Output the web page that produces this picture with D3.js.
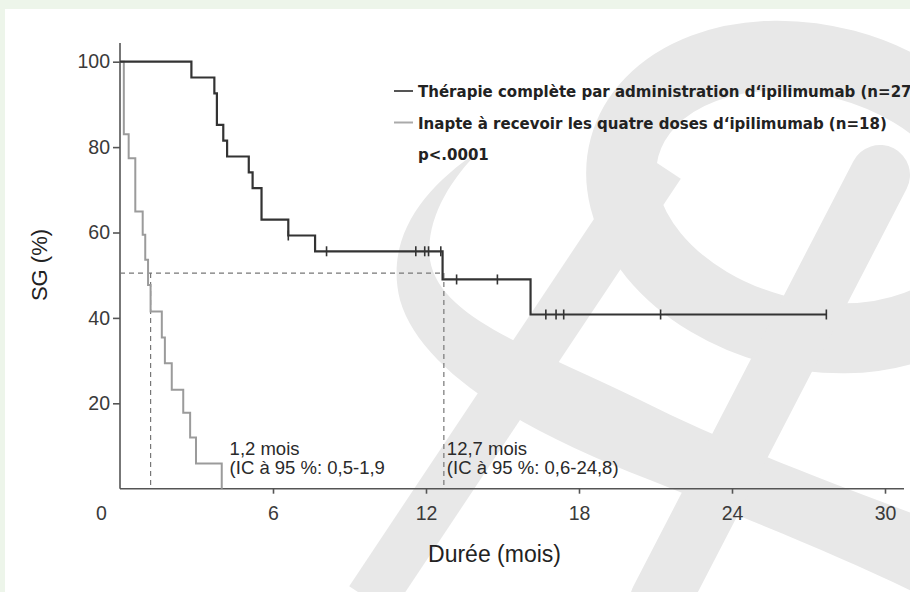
<!DOCTYPE html>
<html>
<head>
<meta charset="utf-8">
<script src="https://cdn.jsdelivr.net/npm/d3@7"></script>
<style>
  body { margin: 0; background: #edf5ea; }
  svg { display: block; }
</style>
</head>
<body>
<svg width="910" height="592"></svg>
<script>
// survival steps: [month, % alive]
const completeSteps = [[0, 100], [2.8, 96.3], [3.7, 92.6], [3.8, 85.2], [4.05, 81.5], [4.2, 77.8],
  [5.05, 74.1], [5.2, 70.4], [5.55, 63.0], [6.6, 59.3], [7.65, 55.6], [12.65, 49.0], [16.1, 40.8]]
const completeEnd = 27.7
const completeCensored = [6.6, 8.1, 11.6, 11.95, 12.1, 12.58, 13.2, 14.8, 16.7, 17.1, 17.4, 21.2, 27.7]

const unfitSteps = [[0, 100], [0.15, 83.0], [0.34, 77.4], [0.6, 64.9], [0.89, 59.5], [0.99, 53.6],
  [1.1, 47.7], [1.2, 41.5], [1.64, 35.4], [1.76, 29.4], [2.03, 23.2], [2.48, 17.8], [2.75, 12.0],
  [2.98, 5.9], [3.99, 0]]

const medians = [1.2, 12.7]
const xTicks = [0, 6, 12, 18, 24, 30]
const yTicks = [20, 40, 60, 80, 100]
const legendLabels = ["Thérapie complète par administration d‘ipilimumab (n=27)",
  "Inapte à recevoir les quatre doses d‘ipilimumab (n=18)"]
const pLabel = "p<.0001"
const medianNotes = [["1,2 mois", "(IC à 95 %: 0,5-1,9"], ["12,7 mois", "(IC à 95 %: 0,6-24,8)"]]

const svg = d3.select("svg")

// white card on the pale green page
svg.append("rect").attr("x", 5).attr("y", 9).attr("width", 905).attr("height", 583).attr("fill", "#fff")

// watermark shapes
const wm = svg.append("g").attr("fill", "none").attr("stroke", "#e8e8e8")
wm.append("ellipse").attr("cx", 810).attr("cy", 197).attr("rx", 192).attr("ry", 137)
  .attr("transform", "rotate(15,810,197)").attr("stroke-width", 70)
wm.append("path").attr("stroke", "none").attr("fill", "#e8e8e8")
  .attr("d", "M480,150 C420,190 385,240 400,300 C420,370 520,430 650,480 C750,520 850,560 930,600 " +
    "L930,520 C850,490 740,450 640,400 C540,350 440,320 430,260 C425,220 450,180 480,150 Z")
wm.append("path").attr("d", "M660,165 L370,600").attr("stroke-width", 50)
wm.append("path").attr("d", "M880,175 L660,600").attr("stroke-width", 60).attr("stroke-linecap", "round")

const x = d3.scaleLinear().domain([0, 30]).range([120, 885])
const y = d3.scaleLinear().domain([0, 100]).range([488.7, 61.7])

const g = svg.append("g")

// axes
const xAxis = d3.axisBottom(x).tickValues(xTicks).tickSize(5).tickSizeOuter(0).tickPadding(12)
const xAxisG = g.append("g").attr("transform", `translate(0,${y(0)})`).call(xAxis)
xAxisG.select(".domain").attr("d", `M${x(0)},0H904`)
xAxisG.selectAll(".tick").filter(d => d === 0).select("text").attr("dx", -19)
xAxisG.selectAll(".tick").filter(d => d === 0).select("line").remove()

const yAxis = d3.axisLeft(y).tickValues(yTicks).tickSize(7).tickSizeOuter(0).tickPadding(3)
const yAxisG = g.append("g").attr("transform", `translate(${x(0)},0)`).call(yAxis)
yAxisG.select(".domain").attr("d", `M0,43V${y(0)}`)

svg.selectAll(".domain, .tick line").attr("stroke", "#555").attr("stroke-width", 1.6)
svg.selectAll(".tick text").attr("font-family", "Liberation Sans, Arial, sans-serif")
  .attr("font-size", 19.5).attr("fill", "#3a3a3a")

g.append("text").attr("x", x(15) - 8).attr("y", 562).attr("text-anchor", "middle")
  .attr("font-family", "Liberation Sans, Arial, sans-serif").attr("font-size", 23).attr("fill", "#222")
  .text("Durée (mois)")
g.append("text").attr("transform", "translate(47,265) rotate(-90)").attr("text-anchor", "middle")
  .attr("font-family", "Liberation Sans, Arial, sans-serif").attr("font-size", 22).attr("fill", "#222")
  .text("SG (%)")

// median guide lines
const guide = g.append("g").attr("stroke", "#777").attr("stroke-width", 1.2).attr("stroke-dasharray", "5,4")
guide.append("line").attr("x1", x(0)).attr("x2", x(medians[1])).attr("y1", y(50.5)).attr("y2", y(50.5))
medians.forEach(m => {
  guide.append("line").attr("x1", x(m)).attr("x2", x(m)).attr("y1", y(50.5)).attr("y2", y(0))
})

// survival curves
const line = d3.line().x(d => x(d[0])).y(d => y(d[1])).curve(d3.curveStepAfter)
g.append("path").datum(unfitSteps)
  .attr("fill", "none").attr("stroke", "#9b9b9b").attr("stroke-width", 2)
  .attr("d", line)
g.append("path").datum(completeSteps.concat([[completeEnd, completeSteps[completeSteps.length - 1][1]]]))
  .attr("fill", "none").attr("stroke", "#333").attr("stroke-width", 2.2)
  .attr("d", line)

const survAt = t => {
  let s = 100
  completeSteps.forEach(d => { if (d[0] <= t) s = d[1] })
  return s
}
g.append("g").selectAll("line").data(completeCensored).enter().append("line")
  .attr("x1", d => x(d)).attr("x2", d => x(d))
  .attr("y1", d => y(survAt(d)) - 5).attr("y2", d => y(survAt(d)) + 5)
  .attr("stroke", "#333").attr("stroke-width", 1.6)

// median notes
medians.forEach((m, i) => {
  const t = g.append("text").attr("font-family", "Liberation Sans, Arial, sans-serif")
    .attr("font-size", 18.5).attr("fill", "#2a2a2a")
  t.append("tspan").attr("x", x(m) + (i === 0 ? 79 : 3)).attr("y", 455).text(medianNotes[i][0])
  t.append("tspan").attr("x", x(m) + (i === 0 ? 79 : 3)).attr("y", 474).text(medianNotes[i][1])
})

// legend (first label runs off the right edge, as in the source)
const legend = g.append("g").attr("font-family", "DejaVu Sans Condensed, DejaVu Sans, sans-serif")
  .attr("font-weight", "bold").attr("font-size", 16.7).attr("fill", "#222")
const legColors = ["#555", "#aaa"]
legendLabels.forEach((l, i) => {
  const yy = 91 + i * 31.5
  legend.append("line").attr("x1", 394).attr("x2", 413).attr("y1", yy).attr("y2", yy)
    .attr("stroke", legColors[i]).attr("stroke-width", 2)
  legend.append("text").attr("x", 418).attr("y", yy + 6).text(l)
})
legend.append("text").attr("x", 418).attr("y", 160).text(pLabel)
</script>
</body>
</html>
